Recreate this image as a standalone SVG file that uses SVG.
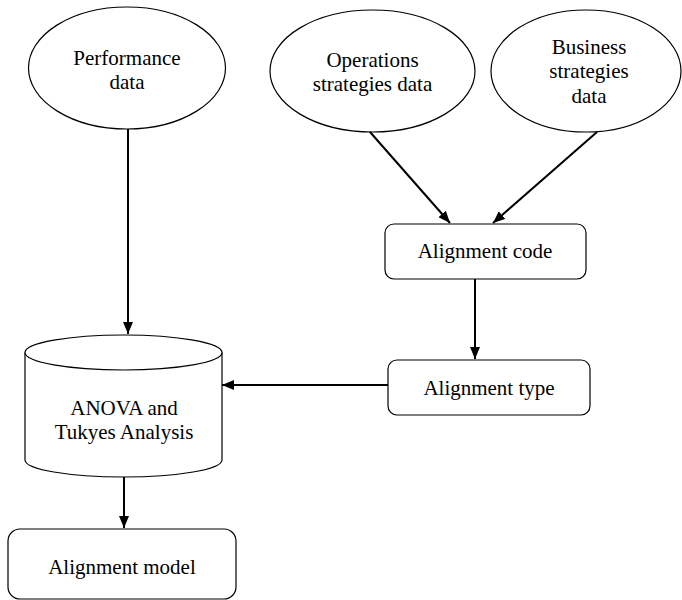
<svg xmlns="http://www.w3.org/2000/svg" width="682" height="600" viewBox="0 0 682 600">
  <defs>
    <style>
      .shape { fill: #ffffff; stroke: #000000; stroke-width: 1.2; }
      .link { fill: none; stroke: #000000; stroke-width: 2; }
    </style>
    <marker id="arrow" viewBox="0 0 12 10" refX="12" refY="5" markerWidth="12" markerHeight="10" markerUnits="userSpaceOnUse" orient="auto">
      <path d="M0,0 L12,5 L0,10 Z" fill="#000000"/>
    </marker>
  </defs>

  <rect width="682" height="600" fill="#ffffff"/>

  <!-- nodes: outline plus centred label -->
  <g font-family="Liberation Serif, serif" font-size="21" text-anchor="middle" fill="#000000">
    <g id="performance-data">
      <ellipse class="shape" cx="127" cy="68" rx="98.5" ry="61"/>
      <text x="127" y="65">Performance</text>
      <text x="127" y="89">data</text>
    </g>

    <g id="operations-strategies-data">
      <ellipse class="shape" cx="372.5" cy="71" rx="102.5" ry="61"/>
      <text x="372.5" y="67">Operations</text>
      <text x="372.5" y="91">strategies data</text>
    </g>

    <g id="business-strategies-data">
      <ellipse class="shape" cx="586" cy="71" rx="95" ry="61"/>
      <text x="589" y="54">Business</text>
      <text x="589" y="78">strategies</text>
      <text x="589" y="103">data</text>
    </g>

    <g id="alignment-code">
      <rect class="shape" x="385" y="224" width="201" height="55" rx="9"/>
      <text x="485" y="258">Alignment code</text>
    </g>

    <g id="alignment-type">
      <rect class="shape" x="388" y="360" width="202" height="55" rx="9"/>
      <text x="489" y="395">Alignment type</text>
    </g>

    <g id="anova-tukey">
      <path class="shape" d="M25,352.5 L25,460 A98.5,17 0 0 0 222,460 L222,352.5"/>
      <ellipse class="shape" cx="123.5" cy="352.5" rx="98.5" ry="17.5"/>
      <text x="124" y="415">ANOVA and</text>
      <text x="124" y="439">Tukyes Analysis</text>
    </g>

    <g id="alignment-model">
      <rect class="shape" x="8" y="529" width="228" height="70" rx="12"/>
      <text x="122" y="574">Alignment model</text>
    </g>
  </g>

  <g id="connectors">
    <line class="link" x1="128" y1="129" x2="128" y2="334" marker-end="url(#arrow)"/>
    <line class="link" x1="370" y1="132" x2="450" y2="223" marker-end="url(#arrow)"/>
    <line class="link" x1="597" y1="132" x2="493" y2="223" marker-end="url(#arrow)"/>
    <line class="link" x1="475" y1="279" x2="475" y2="359" marker-end="url(#arrow)"/>
    <line class="link" x1="388" y1="385" x2="222" y2="385" marker-end="url(#arrow)"/>
    <line class="link" x1="124" y1="477" x2="124" y2="528" marker-end="url(#arrow)"/>
  </g>
</svg>
